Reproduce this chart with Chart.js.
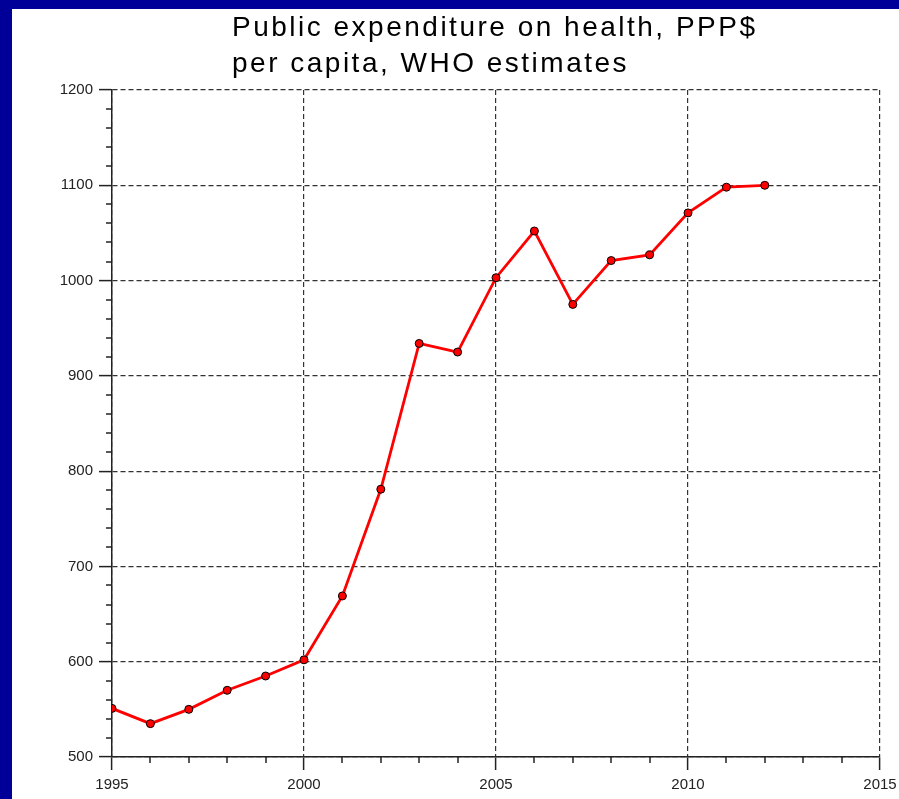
<!DOCTYPE html>
<html>
<head>
<meta charset="utf-8">
<script src="https://cdn.jsdelivr.net/npm/chart.js@4.4.1/dist/chart.umd.min.js"></script>
<style>
    html, body { margin: 0; padding: 0; }
    body { width: 899px; height: 799px; background: #000099; position: relative; overflow: hidden; }
    #panel { position: absolute; left: 12px; top: 9px; width: 887px; height: 790px; background: #fff; }
    #title {
        position: absolute; left: 232px; top: 9px;
        font-family: "Liberation Sans", Arial, sans-serif; font-size: 28px; line-height: 36px;
        letter-spacing: 2.5px; color: #000; white-space: nowrap;
    }
    #healthChart { position: absolute; left: 0; top: 0; }
</style>
</head>
<body>
<div id="panel"></div>
<canvas id="healthChart" width="899" height="799"></canvas>
<div id="title">Public expenditure on health, PPP$<br>per capita, WHO estimates</div>
<script>
// data
const years = [1995, 1996, 1997, 1998, 1999, 2000, 2001, 2002, 2003, 2004, 2005, 2006, 2007, 2008, 2009, 2010, 2011, 2012];
const expenditure = [551, 535, 550, 570, 585, 602, 669, 781, 934, 925, 1003, 1052, 975, 1021, 1027, 1071, 1098, 1100];
const xTicks = [1995, 2000, 2005, 2010, 2015];
const yTicks = [500, 600, 700, 800, 900, 1000, 1100, 1200];

const tickFont = { family: 'Liberation Sans', size: 15 };

// small ticks between the labelled ones (every year / every 20)
const minorTicks = {
    id: 'minorTicks',
    afterDraw(chart) {
        const { ctx, chartArea, scales: { x, y } } = chart;
        ctx.save();
        ctx.strokeStyle = '#222';
        ctx.lineWidth = 1.5;
        for (let v = x.min; v <= x.max; v += 1) {
            if (xTicks.includes(v)) continue;
            const px = Math.round(x.getPixelForValue(v));
            ctx.beginPath();
            ctx.moveTo(px, chartArea.bottom);
            ctx.lineTo(px, chartArea.bottom + 6);
            ctx.stroke();
        }
        for (let v = y.min; v <= y.max; v += 20) {
            if (yTicks.includes(v)) continue;
            const py = Math.round(y.getPixelForValue(v));
            ctx.beginPath();
            ctx.moveTo(chartArea.left, py);
            ctx.lineTo(chartArea.left - 6, py);
            ctx.stroke();
        }
        ctx.restore();
    }
};

new Chart(document.getElementById('healthChart'), {
    type: 'line',
    data: {
        datasets: [{
            data: years.map((yr, i) => ({ x: yr, y: expenditure[i] })),
            borderColor: '#ff0000',
            borderWidth: 2.8,
            tension: 0,
            pointRadius: 4,
            pointBackgroundColor: '#ff0000',
            pointBorderColor: '#000',
            pointBorderWidth: 1
        }]
    },
    options: {
        responsive: false,
        animation: false,
        events: [],
        layout: { padding: { left: 0, top: 90, right: 19, bottom: 0 } },
        plugins: { legend: { display: false }, tooltip: { enabled: false } },
        scales: {
            x: {
                type: 'linear',
                min: xTicks[0],
                max: xTicks[xTicks.length - 1],
                afterBuildTicks: s => { s.ticks = xTicks.map(v => ({ value: v })); },
                afterFit: s => { s.height = 42; s.paddingLeft = 0; s.paddingRight = 0; },
                ticks: { callback: v => String(v), color: '#222', font: tickFont, padding: 6, maxRotation: 0, autoSkip: false },
                grid: { color: '#333', lineWidth: 1.2, tickLength: 13, tickColor: '#222', tickWidth: 1.5 },
                border: { color: '#222', width: 1.5, dash: [5, 3] }
            },
            y: {
                min: yTicks[0],
                max: yTicks[yTicks.length - 1],
                afterBuildTicks: s => { s.ticks = yTicks.map(v => ({ value: v })); },
                afterFit: s => { s.width = 112; s.paddingTop = 0; s.paddingBottom = 0; },
                ticks: { callback: v => String(v), color: '#222', font: tickFont, padding: 6, autoSkip: false },
                grid: { color: '#333', lineWidth: 1.2, tickLength: 13, tickColor: '#222', tickWidth: 1.5 },
                border: { color: '#222', width: 1.5, dash: [5, 3] }
            }
        }
    },
    plugins: [minorTicks]
});
</script>
</body>
</html>
